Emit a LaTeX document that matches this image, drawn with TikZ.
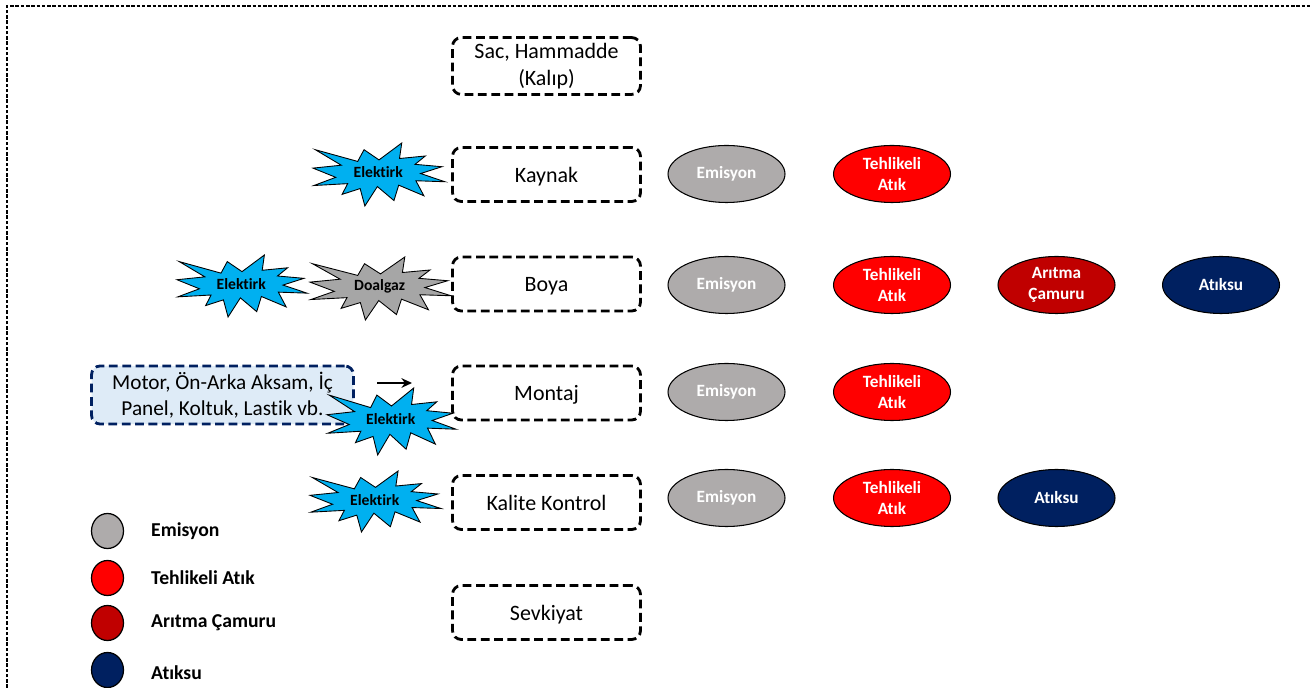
\documentclass[tikz,border=0pt]{standalone}
\usepackage{fontspec}
\setmainfont{Carlito}[Ligatures=NoCommon]
\usetikzlibrary{shapes.geometric,arrows.meta}
\definecolor{emgray}{HTML}{AEABAB}
\definecolor{twred}{HTML}{FF0000}
\definecolor{sludge}{HTML}{C00000}
\definecolor{navy}{HTML}{002060}
\definecolor{elblue}{HTML}{00B0F0}
\definecolor{gasgray}{HTML}{A6A6A6}
\definecolor{partfill}{HTML}{DEEBF7}
\tikzset{
  procbox/.style={draw, line width=1.6pt, dash pattern=on 5pt off 2.6pt, rounded corners=5pt,
    minimum width=3.76cm, minimum height=1.08cm, align=center, font=\fontsize{12.5}{15}\selectfont},
  oneline/.style={text depth=0pt},
  outel/.style={ellipse, draw, line width=0.6pt, minimum width=2.34cm, minimum height=1.14cm,
    inner sep=0pt, align=center, text=white, font=\bfseries\fontsize{9.8}{12}\selectfont},
  legdot/.style={ellipse, draw, line width=0.7pt, minimum width=0.64cm, minimum height=0.7cm, inner sep=0pt},
  legtext/.style={anchor=west, font=\bfseries\fontsize{11.2}{13}\selectfont},
  boomline/.style={draw=black, line width=0.5pt, line join=miter},
  boomtext/.style={font=\bfseries\fontsize{8.9}{10}\selectfont, inner sep=0pt},
}
% name, x0, y0, w, h, fill, text
\newcommand\boom[7]{%
  \begin{scope}[shift={(#2,#3)},xscale=#4,yscale=#5]
    \path[boomline, fill=#6] (0.5,0.2685) -- (0.6723,0) -- (0.6553,0.2465) -- (0.8509,0.2063)
      -- (0.7732,0.3387) -- (0.9767,0.3767) -- (0.8151,0.4850) -- (1,0.6153)
      -- (0.7795,0.5992) -- (0.8400,0.8377) -- (0.6491,0.6693) -- (0.6133,0.9138)
      -- (0.4876,0.6914) -- (0.3928,1) -- (0.3572,0.7235) -- (0.2205,0.8156)
      -- (0.2624,0.6452) -- (0.0063,0.6753) -- (0.1723,0.5451) -- (0,0.3988)
      -- (0.2142,0.3526) -- (0.0171,0.1063) -- (0.3385,0.2926) -- (0.3867,0.1063) -- cycle;
  \end{scope}
  \node[boomtext] (#1) at ({#2+#4*0.494},{#3+#5*0.469}) {#7};
}
\begin{document}
\begin{tikzpicture}[x=0.02cm,y=-0.02cm]
\useasboundingbox (0,0) rectangle (1311,688);
% outer dashed frame
\draw[line width=0.6pt, dash pattern=on 2pt off 1pt] (7,688) -- (7,6) -- (1311,6);

% process boxes
\node[procbox] (sac) at (546.5,66) {Sac, Hammadde\\(Kalıp)};
\node[procbox, oneline] (kaynak) at (546.5,174.5) {Kaynak};
\node[procbox, oneline] (boya) at (546.5,284) {Boya};
\node[procbox, oneline] (montaj) at (546.5,393) {Montaj};
\node[procbox, oneline] (kalite) at (546.5,502.5) {Kalite Kontrol};
\node[procbox, oneline] (sevk) at (546.5,612.5) {Sevkiyat};

% energy inputs
\boom{elk1}{313}{143}{132}{63}{elblue}{Elektirk}
\boom{elk2}{177}{255}{130}{62}{elblue}{Elektirk}
\boom{gas2}{310}{257}{141}{63}{gasgray}{Doalgaz}
\boom{elk4}{310}{471}{131}{61}{elblue}{Elektirk}

% parts box
\node[procbox, draw=navy, fill=partfill, minimum width=5.24cm, minimum height=1.14cm,
  font=\fontsize{12.1}{15}\selectfont] (parts) at (222.5,395)
  {Motor, Ön-Arka Aksam, İç\\Panel, Koltuk, Lastik vb.};
\coordinate (arrS) at (377,383);
\coordinate (arrE) at (412,383);
\draw[-{Stealth[length=6pt,width=5.5pt]}, line width=1.3pt] (arrS) -- (arrE);
\boom{elk3}{327}{388}{129}{67}{elblue}{Elektirk}

% outputs
\node[outel, fill=emgray] (em1) at (726.5,174) {Emisyon};
\node[outel, fill=twred] (tw1) at (892,174) {Tehlikeli\\Atık};

\node[outel, fill=emgray] (em2) at (726.5,285) {Emisyon};
\node[outel, fill=twred] (tw2) at (892,285) {Tehlikeli\\Atık};
\node[outel, fill=sludge] (sl2) at (1056.5,285) {Arıtma\\Çamuru};
\node[outel, fill=navy] (ww2) at (1221,285) {Atıksu};

\node[outel, fill=emgray] (em3) at (726.5,392) {Emisyon};
\node[outel, fill=twred] (tw3) at (892,392) {Tehlikeli\\Atık};

\node[outel, fill=emgray] (em4) at (726.5,498) {Emisyon};
\node[outel, fill=twred] (tw4) at (892,498) {Tehlikeli\\Atık};
\node[outel, fill=navy] (ww4) at (1056.5,498) {Atıksu};

% legend
\node[legdot, fill=emgray] (lg1) at (107.5,531) {};
\node[legtext] (lt1) at (145,531) {Emisyon};
\node[legdot, fill=twred] (lg2) at (107.5,578) {};
\node[legtext] (lt2) at (145,578) {Tehlikeli Atık};
\node[legdot, fill=sludge] (lg3) at (107.5,623) {};
\node[legtext] (lt3) at (145,623) {Arıtma Çamuru};
\node[legdot, fill=navy] (lg4) at (107.5,670) {};
\node[legtext] (lt4) at (145,673) {Atıksu};
\end{tikzpicture}
\end{document}
